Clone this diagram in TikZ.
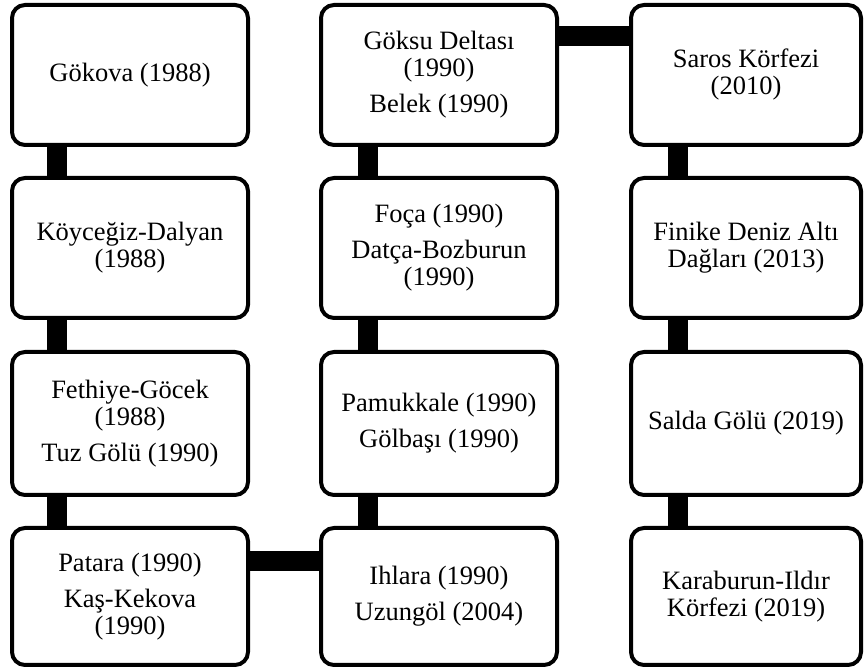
\documentclass[tikz,border=0pt]{standalone}
\usepackage{fontspec}
\setmainfont{Liberation Serif}
\begin{document}
\begin{tikzpicture}[x=1pt,y=1pt,
  box/.style={draw=black, line width=4pt, rounded corners=13pt, fill=white,
    minimum width=236pt, minimum height=140pt, align=center, inner sep=0pt,
    font=\fontsize{26.5}{27}\selectfont},
  box3/.style={box, minimum width=230pt},
  bar/.style={line width=20pt, black}]
\useasboundingbox (0,0) rectangle (864,671);
% column 1
\node[box] (a1) at (130,596) {Gökova (1988)};
\node[box] (a2) at (130,423) {Köyceğiz-Dalyan\\(1988)};
\node[box, minimum height=143pt] (a3) at (130,247.5) {Fethiye-Göcek\\(1988)\\[9pt]Tuz Gölü (1990)};
\node[box, minimum height=137pt] (a4) at (130,74.5) {Patara (1990)\\[9pt]Kaş-Kekova\\(1990)};
% column 2
\node[box] (b1) at (439,596) {Göksu Deltası\\(1990)\\[9pt]Belek (1990)};
\node[box] (b2) at (439,423) {Foça (1990)\\[9pt]Datça-Bozburun\\(1990)};
\node[box, minimum height=143pt] (b3) at (439,247.5) {Pamukkale (1990)\\[9pt]Gölbaşı (1990)};
\node[box, minimum height=137pt] (b4) at (439,74.5) {Ihlara (1990)\\[9pt]Uzungöl (2004)};
% column 3
\node[box3] (c1) at (746,596) {Saros Körfezi\\(2010)};
\node[box3] (c2) at (746,423) {Finike Deniz Altı\\Dağları (2013)};
\node[box3, minimum height=143pt] (c3) at (746,247.5) {Salda Gölü (2019)};
\node[box3, minimum height=137pt] (c4) at (746,74.5) {Karaburun-Ildır\\Körfezi (2019)};
% connectors
\draw[bar] ([xshift=47pt]a1.south west) -- ([xshift=47pt]a2.north west);
\draw[bar] ([xshift=47pt]a2.south west) -- ([xshift=47pt]a3.north west);
\draw[bar] ([xshift=47pt]a3.south west) -- ([xshift=47pt]a4.north west);
\draw[bar] ([yshift=-35pt]a4.north east) -- ([yshift=-35pt]b4.north west);
\draw[bar] ([xshift=49pt]b4.north west) -- ([xshift=49pt]b3.south west);
\draw[bar] ([xshift=49pt]b3.north west) -- ([xshift=49pt]b2.south west);
\draw[bar] ([xshift=49pt]b2.north west) -- ([xshift=49pt]b1.south west);
\draw[bar] ([yshift=-33pt]b1.north east) -- ([yshift=-33pt]c1.north west);
\draw[bar] ([xshift=49pt]c1.south west) -- ([xshift=49pt]c2.north west);
\draw[bar] ([xshift=49pt]c2.south west) -- ([xshift=49pt]c3.north west);
\draw[bar] ([xshift=49pt]c3.south west) -- ([xshift=49pt]c4.north west);
\end{tikzpicture}
\end{document}
